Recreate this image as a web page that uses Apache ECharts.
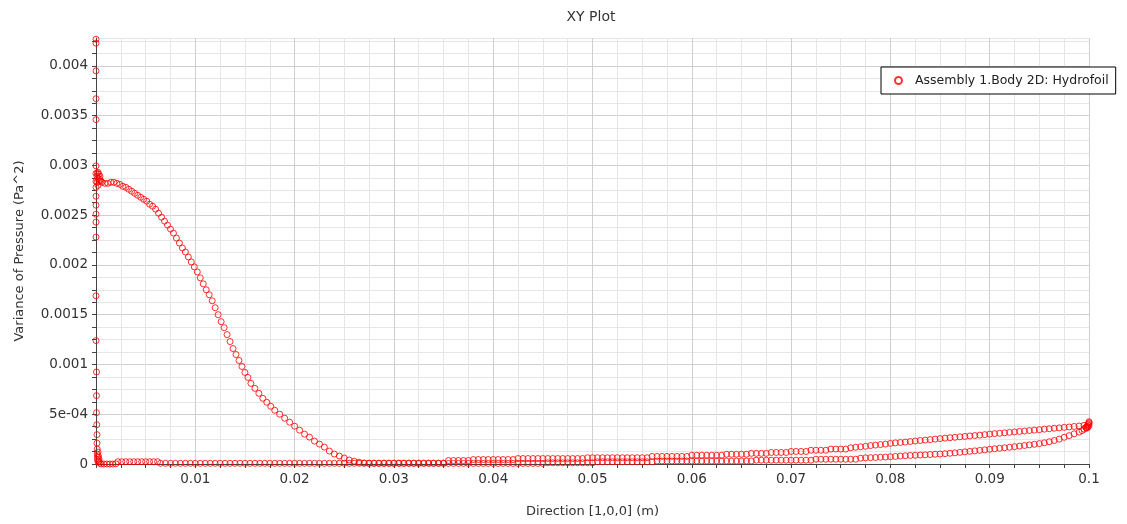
<!DOCTYPE html>
<html><head><meta charset="utf-8">
<script src="https://cdn.jsdelivr.net/npm/echarts@6/dist/echarts.min.js"></script>
<style>html,body{margin:0;padding:0;background:#fff}#c{width:1127px;height:524px}</style>
</head><body><div id="c"></div>
<script>
const chartTitle = 'XY Plot';
const seriesName = 'Assembly 1.Body 2D: Hydrofoil';
const xAxisName = 'Direction [1,0,0] (m)';
const yAxisName = 'Variance of Pressure (Pa^2)';
const xTickLabels = ['0.01','0.02','0.03','0.04','0.05','0.06','0.07','0.08','0.09','0.1'];
const yTickLabels = ['0','5e-04','0.001','0.0015','0.002','0.0025','0.003','0.0035','0.004'];

// leading edge column and cluster
const leadingEdge = [
[0,0.004268],[0,0.004228],[0,0.00395],[0,0.00367],[0,0.00346],[0,0.002995],[0,0.00292],[0,0.00284],
[0,0.00278],[0,0.00269],[0,0.0026],[0,0.00251],[0,0.00243],[0,0.00228],[0,0.00169],[0,0.00124],
[0.00005,0.000925],[0.00005,0.000687],[0.00005,0.000516],[0.00008,0.000395],[0.0001,0.000295],
[0.0001,0.00021],[0.00012,0.00015],[0.00012,0.0001],[0.00015,0.00007],[0.00015,0.00004],
[0.0002,0.00012],[0.00025,0.00008],[0.0003,0.00005],[0.0003,0.00003],[0.0002,0.00002],[0.0004,0.00001],
[0.0001,0.00289],[0.00015,0.00292],[0.0002,0.00293],[0.0003,0.00291],[0.0004,0.00289],[0.0004,0.00286],
[0.0005,0.00284],[0.0006,0.00283],[0.0002,0.00287],[0.0003,0.00284],[0.0001,0.00283],[0.0002,0.0028]
];

// high-variance curve
const upperCurve = [
[0.0009,0.00282],[0.0012,0.00282],[0.0015,0.00283],[0.0018,0.00283],[0.0021,0.00282],[0.0024,0.00281],
[0.0027,0.00279],[0.0030,0.00278],[0.0033,0.00276],[0.0036,0.00274],[0.0039,0.00272],[0.0042,0.00270],
[0.0045,0.00268],[0.0048,0.00266],[0.0051,0.00264],[0.0054,0.00261],[0.0057,0.00259],[0.0060,0.00256],
[0.0063,0.00252],[0.0066,0.00248],[0.0069,0.00244],[0.0072,0.00240],[0.0075,0.00236],[0.0078,0.00232],
[0.0081,0.00227],[0.0084,0.00222],[0.0087,0.00217],[0.0090,0.00213],[0.0093,0.00208],[0.0096,0.00203],
[0.0099,0.00198],[0.0102,0.00193],[0.0105,0.00187],[0.0108,0.00181],[0.0111,0.00175],[0.0114,0.00170],
[0.0117,0.00164],[0.0120,0.00157],[0.0123,0.00150],[0.0126,0.00143],[0.0129,0.00137],[0.0132,0.00130],
[0.0135,0.00123],[0.0138,0.00116],[0.0141,0.00110],[0.0144,0.00104],[0.0147,0.00098],[0.0150,0.00092],
[0.0153,0.00087],[0.0156,0.00081],[0.0160,0.00076],[0.0164,0.00071],[0.0168,0.00066],[0.0172,0.00062],
[0.0176,0.00058],[0.0180,0.00054],[0.0185,0.00050],[0.0190,0.00046],[0.0195,0.00042],[0.0200,0.00038],
[0.0205,0.00034],[0.0210,0.00030],[0.0215,0.00027],[0.0220,0.00023],[0.0225,0.00020],[0.0230,0.00017],
[0.0235,0.00013],[0.0240,0.00010],[0.0245,0.00008],[0.0250,0.00006],[0.0255,0.00004],[0.0260,0.000028],
[0.0265,0.000018],[0.0270,0.00001]
];

// near-zero branch from leading edge to trailing edge
const lowerBranch = [
[0.0005,0],[0.0008,0],[0.0011,0],[0.0014,0],[0.0017,0],[0.002,0.000002],
[0.0022,0.000023],[0.0026,0.000023],[0.003,0.000023],[0.0034,0.000023],[0.0038,0.000023],[0.0042,0.000023],
[0.0046,0.000023],[0.005,0.000023],[0.0054,0.000023],[0.0058,0.000023],[0.0062,0.000023],
[0.0065,0.000007],[0.007,0.000007],[0.0075,0.000007],[0.008,0.000007],[0.0085,0.000007],[0.009,0.000007],
[0.0095,0.000007],[0.01,0.000007],[0.0105,0.000007],[0.011,0.000007],[0.0115,0.000007],[0.012,0.000007],
[0.0125,0.000007],[0.013,0.000007],[0.0135,0.000007],[0.014,0.000007],[0.0145,0.000007],[0.015,0.000007],
[0.0155,0.000007],[0.016,0.000007],[0.0165,0.000007],[0.017,0.000007],[0.0175,0.000007],[0.018,0.000007],
[0.0185,0.000007],[0.019,0.000007],[0.0195,0.000007],[0.02,0.000007],[0.0205,0.000007],[0.021,0.000007],
[0.0215,0.000007],[0.022,0.000007],[0.0225,0.000007],[0.023,0.000007],[0.0235,0.000007],[0.024,0.000007],
[0.0245,0.000007],[0.025,0.000007],[0.0255,0.000007],[0.026,0.000007],[0.0265,0.000007],[0.027,0.000007],
[0.0275,0.000006],[0.028,0.000006],[0.0285,0.000006],[0.029,0.000006],[0.0295,0.000006],[0.03,0.000006],
[0.0305,0.000006],[0.031,0.000006],[0.0315,0.000006],[0.032,0.000006],[0.0325,0.000006],[0.033,0.000006],
[0.0335,0.000006],[0.034,0.000006],[0.0345,0.000006],[0.035,0.000006],[0.0355,0.000006],[0.036,0.000006],
[0.0365,0.000006],[0.037,0.000006],[0.0375,0.000006],[0.038,0.000006],[0.0385,0.000006],[0.039,0.000006],
[0.0395,0.000006],[0.04,0.000006],[0.0405,0.000006],[0.041,0.000006],[0.0415,0.000006],[0.042,0.000006],
[0.0425,0.000006],[0.043,0.000006],[0.0435,0.000006],[0.044,0.000006],[0.0445,0.000006],[0.045,0.000006],
[0.0455,0.000012],[0.046,0.000012],[0.0465,0.000012],[0.047,0.000012],[0.0475,0.000012],[0.048,0.000012],
[0.0485,0.000012],[0.049,0.000012],[0.0495,0.000012],[0.05,0.000012],
[0.0505,0.000022],[0.051,0.000022],[0.0515,0.000022],[0.052,0.000022],[0.0525,0.000022],[0.053,0.000022],
[0.0535,0.000022],[0.054,0.000022],[0.0545,0.000022],[0.055,0.000022],[0.0555,0.000022],[0.056,0.000022],
[0.0565,0.00003],[0.057,0.00003],[0.0575,0.00003],[0.058,0.00003],[0.0585,0.00003],[0.059,0.00003],
[0.0595,0.00003],[0.06,0.00003],[0.0605,0.00003],[0.061,0.00003],[0.0615,0.00003],[0.062,0.00003],
[0.0625,0.00003],[0.063,0.00003],[0.0635,0.00003],[0.064,0.00003],[0.0645,0.00003],[0.065,0.00003],
[0.0655,0.00003],[0.066,0.00003],
[0.0665,0.000038],[0.067,0.000038],[0.0675,0.000038],[0.068,0.000038],[0.0685,0.000038],[0.069,0.000038],
[0.0695,0.000038],[0.07,0.000038],[0.0705,0.000038],[0.071,0.000038],[0.0715,0.000038],[0.072,0.000038],
[0.0725,0.000048],[0.073,0.000048],[0.0735,0.000048],[0.074,0.000048],[0.0745,0.000048],[0.075,0.000048],
[0.0755,0.000048],[0.076,0.000048],[0.0765,0.000048],
[0.077,0.000058],[0.0775,0.000062],[0.078,0.000064],[0.0785,0.000066],[0.079,0.000068],[0.0795,0.00007],
[0.08,0.000073],[0.0805,0.000076],[0.081,0.00008],[0.0815,0.000083],[0.082,0.000086],[0.0825,0.000088],
[0.083,0.00009],[0.0835,0.000092],[0.084,0.000095],[0.0845,0.000098],[0.085,0.0001],[0.0855,0.000104],
[0.086,0.000108],[0.0865,0.000112],[0.087,0.000117],[0.0875,0.000122],[0.088,0.000127],[0.0885,0.000132],
[0.089,0.000137],[0.0895,0.000142],[0.09,0.000148],[0.0905,0.000153],[0.091,0.000158],[0.0915,0.000163],
[0.092,0.000168],[0.0925,0.000174],[0.093,0.00018],[0.0935,0.000186],[0.094,0.000192],[0.0945,0.000198],
[0.095,0.000205],[0.0955,0.000213],[0.096,0.000224],[0.0965,0.000236],[0.097,0.00025],[0.0975,0.000268],
[0.098,0.000285],[0.0985,0.000303],[0.099,0.00032],[0.0993,0.000335],[0.0995,0.00035],[0.0997,0.000365]
];

// branch continuing the high curve to the trailing edge
const tailBranch = [
[0.0275,0.000009],[0.028,0.000009],[0.0285,0.000009],[0.029,0.000009],[0.0295,0.000009],[0.03,0.000009],
[0.0305,0.000009],[0.031,0.000009],[0.0315,0.000009],[0.032,0.000009],[0.0325,0.000009],[0.033,0.000009],
[0.0335,0.000009],[0.034,0.000009],[0.0345,0.000009],[0.035,0.000009],
[0.0355,0.000035],[0.036,0.000035],[0.0365,0.000035],[0.037,0.000035],[0.0375,0.000035],
[0.038,0.000045],[0.0385,0.000045],[0.039,0.000045],[0.0395,0.000045],[0.04,0.000045],[0.0405,0.000045],
[0.041,0.000045],[0.0415,0.000045],[0.042,0.000045],
[0.0425,0.000055],[0.043,0.000055],[0.0435,0.000055],[0.044,0.000055],[0.0445,0.000055],[0.045,0.000055],
[0.0455,0.000055],[0.046,0.000055],[0.0465,0.000055],[0.047,0.000055],[0.0475,0.000055],[0.048,0.000055],
[0.0485,0.000055],[0.049,0.000055],
[0.0495,0.000063],[0.05,0.000063],[0.0505,0.000063],[0.051,0.000063],[0.0515,0.000063],[0.052,0.000063],
[0.0525,0.000063],[0.053,0.000063],[0.0535,0.000063],[0.054,0.000063],[0.0545,0.000063],[0.055,0.000063],
[0.0555,0.000063],
[0.056,0.000076],[0.0565,0.000076],[0.057,0.000076],[0.0575,0.000076],[0.058,0.000076],[0.0585,0.000076],
[0.059,0.000076],[0.0595,0.000076],
[0.06,0.000088],[0.0605,0.000088],[0.061,0.000088],[0.0615,0.000088],[0.062,0.000088],[0.0625,0.000088],
[0.063,0.000088],
[0.0635,0.000098],[0.064,0.000098],[0.0645,0.000098],[0.065,0.000098],[0.0655,0.000098],
[0.066,0.000107],[0.0665,0.000107],[0.067,0.000107],[0.0675,0.000107],
[0.068,0.000116],[0.0685,0.000116],[0.069,0.000116],[0.0695,0.000116],
[0.07,0.000126],[0.0705,0.000126],[0.071,0.000126],[0.0715,0.000126],
[0.072,0.000138],[0.0725,0.000138],[0.073,0.000138],[0.0735,0.000138],
[0.074,0.00015],[0.0745,0.00015],[0.075,0.00015],[0.0755,0.00015],
[0.076,0.000163],[0.0765,0.000168],[0.077,0.000173],[0.0775,0.000178],[0.078,0.000185],[0.0785,0.00019],
[0.079,0.000195],[0.0795,0.0002],[0.08,0.000207],[0.0805,0.000212],[0.081,0.000216],[0.0815,0.00022],
[0.082,0.000226],[0.0825,0.000231],[0.083,0.000236],[0.0835,0.00024],[0.084,0.000245],[0.0845,0.00025],
[0.085,0.000255],[0.0855,0.00026],[0.086,0.000264],[0.0865,0.000268],[0.087,0.000273],[0.0875,0.000277],
[0.088,0.000282],[0.0885,0.000286],[0.089,0.00029],[0.0895,0.000295],[0.09,0.0003],[0.0905,0.000305],
[0.091,0.000309],[0.0915,0.000313],[0.092,0.000318],[0.0925,0.000322],[0.093,0.000327],[0.0935,0.000331],
[0.094,0.000336],[0.0945,0.00034],[0.095,0.000345],[0.0955,0.00035],[0.096,0.000354],[0.0965,0.000359],
[0.097,0.000363],[0.0975,0.000368],[0.098,0.000372],[0.0985,0.000377],[0.099,0.000382],[0.0995,0.000388]
];

const trailingEdge = [
[0.1,0.000425],[0.1,0.000415],[0.1,0.000405],[0.0999,0.000395],[0.1,0.000385],[0.0999,0.000372],
[0.0998,0.00036],[0.0997,0.000368],[0.0998,0.00038]
];

const allPoints = leadingEdge.concat(upperCurve, lowerBranch, tailBranch, trailingEdge);

const chart = echarts.init(document.getElementById('c'), null, {renderer: 'canvas'});
const FONT = 'DejaVu Sans';
const majorC = '#cfcfcf', minorC = '#e6e6e6';

function xLabel(v) {
  const k = v / 0.01, r = Math.round(k);
  if (Math.abs(k - r) > 1e-6 || r < 1) return '';
  return xTickLabels[r - 1] || '';
}
function yLabel(v) {
  const k = v / 0.0005, r = Math.round(k);
  if (Math.abs(k - r) > 1e-6) return '';
  return yTickLabels[r] || '';
}

chart.setOption({
  animation: false,
  backgroundColor: '#fff',
  title: {
    text: chartTitle, left: 591, top: 10, textAlign: 'center', padding: 0,
    textStyle: {fontFamily: FONT, fontSize: 14, fontWeight: 'normal', color: '#333'}
  },
  legend: {
    left: 881, top: 67,
    padding: [7, 7, 7, 13],
    borderColor: '#000', borderWidth: 1, borderRadius: 0, backgroundColor: '#fff',
    itemWidth: 23, itemHeight: 7,
    textStyle: {fontFamily: FONT, fontSize: 12.5, color: '#222'},
    data: [seriesName]
  },
  grid: {left: 96, right: 38, top: 38, bottom: 60, containLabel: false},
  xAxis: {
    type: 'value', min: 0, max: 0.1, interval: 0.0025,
    name: xAxisName, nameLocation: 'middle', nameGap: 41,
    nameTextStyle: {fontFamily: FONT, fontSize: 13, color: '#333'},
    axisLine: {show: true, onZero: false, lineStyle: {color: '#444', width: 1}},
    axisTick: {show: true, length: 4, lineStyle: {color: '#444'}},
    axisLabel: {formatter: xLabel, fontFamily: FONT, fontSize: 13.5, color: '#333', margin: 8},
    splitLine: {show: true, lineStyle: {color: [majorC, minorC, minorC, minorC], width: 1}}
  },
  yAxis: {
    type: 'value', min: 0, max: 0.00428, interval: 0.000125,
    name: yAxisName, nameLocation: 'middle', nameGap: 70,
    nameTextStyle: {fontFamily: FONT, fontSize: 13, color: '#333'},
    axisLine: {show: true, onZero: false, lineStyle: {color: '#444', width: 1}},
    axisTick: {show: true, length: 4, lineStyle: {color: '#444'}},
    axisLabel: {formatter: yLabel, fontFamily: FONT, fontSize: 13.5, color: '#333', margin: 8, showMaxLabel: false},
    splitLine: {show: true, lineStyle: {color: [majorC, minorC, minorC, minorC], width: 1}}
  },
  series: [{
    name: seriesName,
    type: 'scatter',
    clip: false,
    symbol: 'circle',
    symbolSize: 6,
    itemStyle: {color: 'rgba(255,255,255,0)', borderColor: '#ff0000', borderWidth: 1},
    data: allPoints
  }]
});
</script></body></html>
